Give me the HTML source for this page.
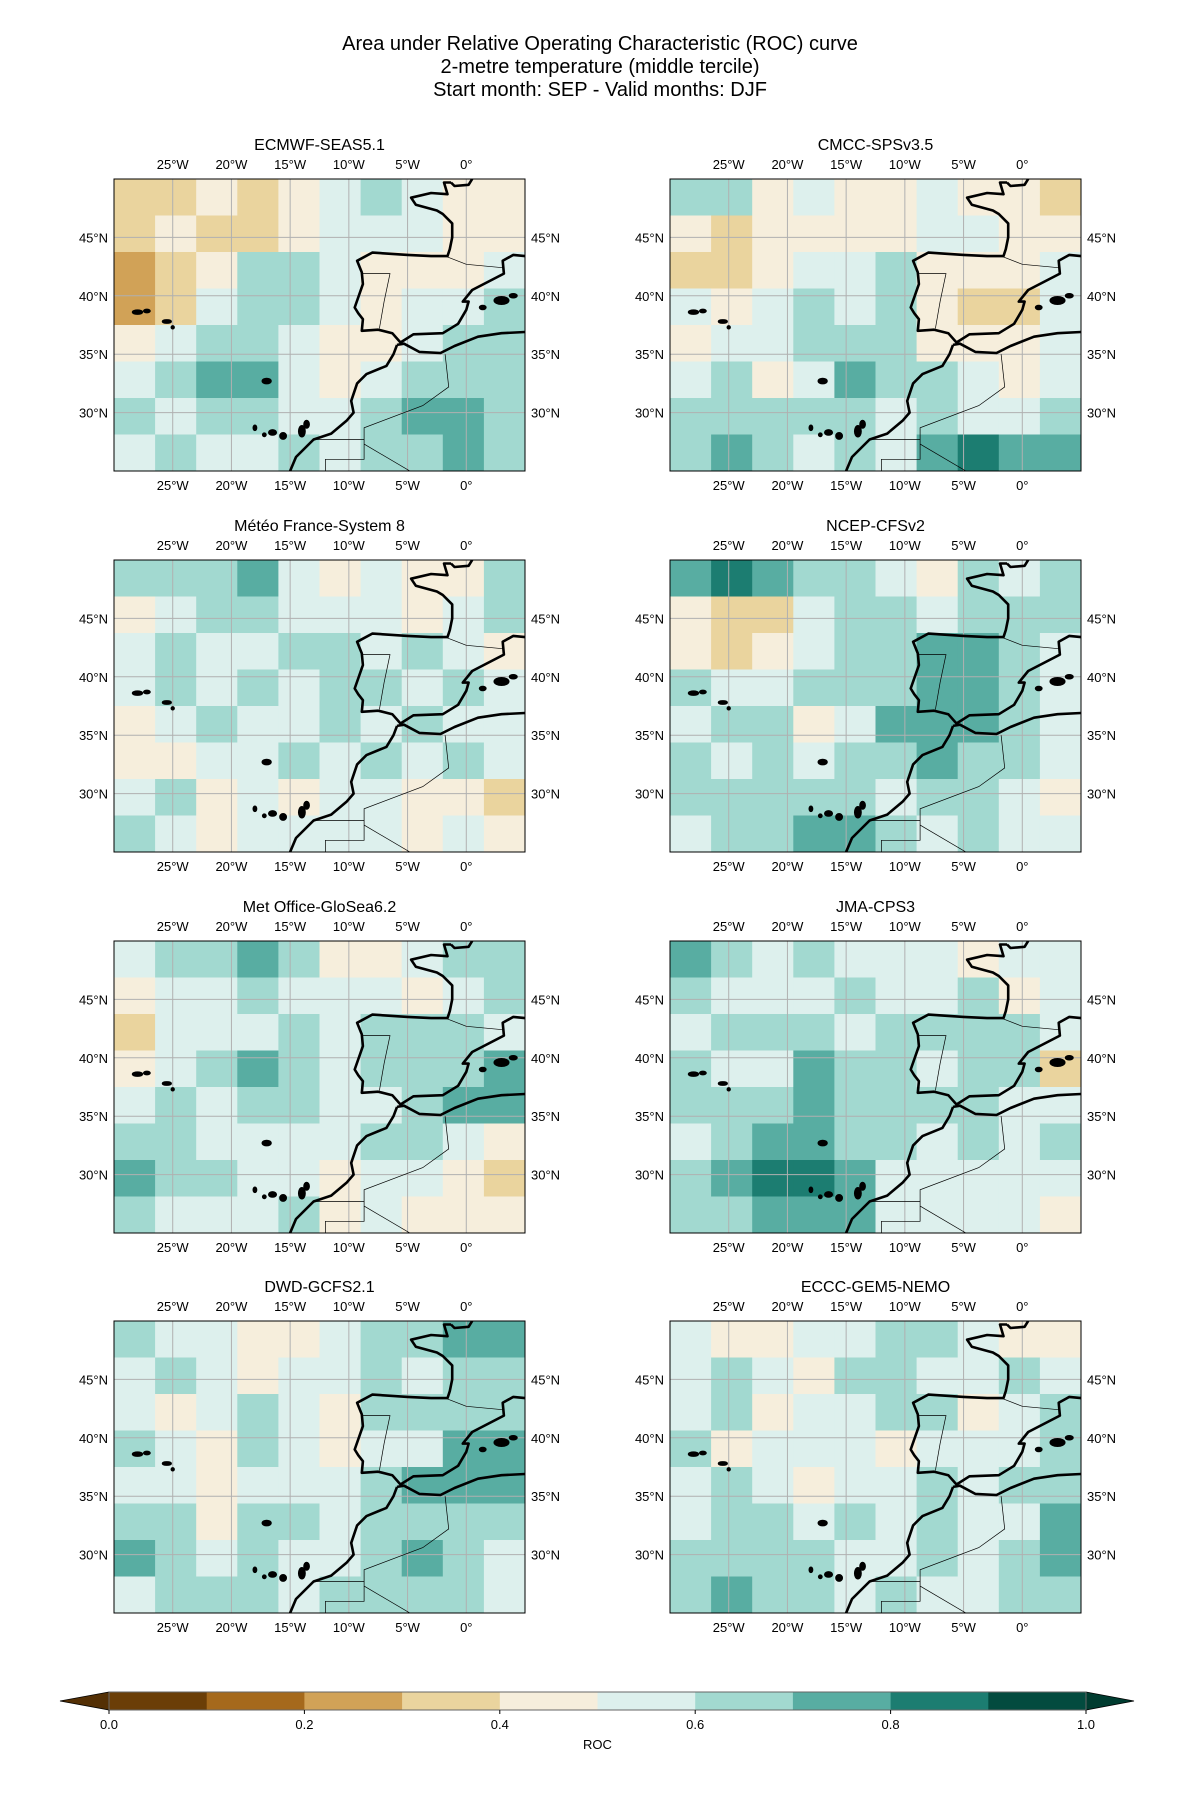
<!DOCTYPE html>
<html><head><meta charset="utf-8">
<style>
body{margin:0;background:#fff;font-family:"Liberation Sans",sans-serif;}
svg{display:block}
</style></head>
<body>
<svg id="fig" width="1200" height="1800" viewBox="0 0 1200 1800" xmlns="http://www.w3.org/2000/svg" font-family="Liberation Sans, sans-serif">
<g font-size="20" text-anchor="middle" fill="#000">
<text x="600" y="50">Area under Relative Operating Characteristic (ROC) curve</text>
<text x="600" y="73">2-metre temperature (middle tercile)</text>
<text x="600" y="96">Start month: SEP - Valid months: DJF</text>
</g>
<g id="panels"></g>
<g id="cbar"></g>
</svg>
<script>
const modelNames = ["ECMWF-SEAS5.1","CMCC-SPSv3.5","Météo France-System 8","NCEP-CFSv2","Met Office-GloSea6.2","JMA-CPS3","DWD-GCFS2.1","ECCC-GEM5-NEMO"];
const lonTicks = [-25,-20,-15,-10,-5,0];
const lonTickLabels = ["25°W","20°W","15°W","10°W","5°W","0°"];
const latTicks = [45,40,35,30];
const latTickLabels = ["45°N","40°N","35°N","30°N"];
const cbarTicks = [0,0.2,0.4,0.6,0.8,1.0];
const cbarTickLabels = ["0.0","0.2","0.4","0.6","0.8","1.0"];
const levels = [0,0.1,0.2,0.3,0.4,0.5,0.6,0.7,0.8,0.9,1.0];
const palette = ["#6b3e07","#a5691c","#d1a257","#ead49e","#f6eedc","#ddf0ed","#a2d9d0","#58ada2","#1c7d71","#034b3f"];
const roc_ecmwf = [
[.35,.35,.45,.35,.45,.55,.65,.55,.45,.45],
[.35,.45,.35,.35,.45,.55,.55,.55,.45,.45],
[.25,.35,.45,.65,.65,.55,.45,.45,.45,.55],
[.25,.35,.55,.65,.65,.55,.45,.55,.55,.65],
[.45,.55,.65,.65,.55,.45,.45,.55,.65,.65],
[.55,.65,.75,.75,.55,.45,.55,.65,.65,.65],
[.65,.55,.65,.65,.55,.55,.65,.75,.75,.65],
[.55,.65,.55,.55,.65,.55,.65,.65,.75,.65]];
const roc_cmcc = [
[.65,.65,.45,.55,.45,.45,.55,.45,.45,.35],
[.45,.35,.45,.45,.45,.45,.55,.55,.45,.45],
[.35,.35,.45,.55,.55,.65,.45,.45,.45,.55],
[.55,.45,.55,.65,.55,.65,.45,.35,.35,.55],
[.45,.55,.55,.65,.65,.65,.45,.45,.45,.55],
[.55,.65,.45,.55,.75,.65,.65,.55,.45,.55],
[.65,.65,.65,.65,.65,.55,.65,.55,.55,.65],
[.65,.75,.65,.55,.65,.55,.75,.85,.75,.75]];
const roc_mf = [
[.65,.65,.65,.75,.55,.45,.55,.45,.45,.65],
[.45,.55,.65,.65,.55,.55,.55,.45,.55,.65],
[.55,.65,.55,.55,.65,.65,.55,.65,.55,.45],
[.55,.65,.55,.65,.55,.65,.65,.55,.65,.55],
[.45,.55,.65,.55,.55,.65,.55,.65,.55,.55],
[.45,.45,.55,.55,.65,.55,.65,.55,.65,.55],
[.55,.65,.45,.55,.45,.55,.55,.45,.45,.35],
[.65,.55,.45,.55,.55,.55,.55,.45,.55,.45]];
const roc_ncep = [
[.75,.85,.75,.65,.65,.55,.45,.65,.55,.65],
[.45,.35,.35,.55,.65,.65,.55,.65,.65,.65],
[.45,.35,.45,.55,.65,.65,.75,.75,.65,.55],
[.65,.55,.55,.65,.65,.65,.75,.75,.65,.55],
[.55,.65,.65,.45,.55,.75,.75,.75,.65,.55],
[.65,.55,.65,.55,.65,.65,.75,.65,.65,.55],
[.65,.65,.65,.65,.65,.55,.65,.65,.55,.45],
[.55,.65,.65,.75,.75,.65,.55,.65,.55,.55]];
const roc_ukmo = [
[.55,.65,.65,.75,.65,.45,.45,.55,.65,.65],
[.45,.55,.55,.65,.55,.55,.55,.45,.55,.65],
[.35,.55,.55,.55,.65,.55,.65,.65,.65,.55],
[.45,.55,.65,.75,.65,.55,.65,.65,.65,.75],
[.55,.65,.55,.65,.65,.55,.55,.65,.75,.75],
[.65,.65,.55,.55,.55,.55,.65,.65,.55,.45],
[.75,.65,.65,.55,.55,.45,.55,.55,.45,.35],
[.65,.55,.55,.55,.65,.45,.55,.45,.45,.45]];
const roc_jma = [
[.75,.65,.55,.65,.55,.55,.55,.45,.55,.55],
[.65,.55,.55,.55,.65,.55,.55,.65,.45,.55],
[.55,.65,.65,.65,.55,.65,.65,.65,.65,.55],
[.65,.55,.55,.75,.65,.65,.55,.65,.65,.35],
[.65,.65,.65,.75,.65,.65,.65,.65,.55,.55],
[.55,.65,.75,.75,.65,.65,.55,.65,.55,.65],
[.65,.75,.85,.85,.75,.55,.55,.55,.55,.55],
[.65,.65,.75,.75,.75,.55,.55,.55,.55,.45]];
const roc_dwd = [
[.65,.55,.55,.45,.45,.55,.65,.65,.75,.75],
[.55,.65,.55,.45,.55,.55,.65,.55,.65,.65],
[.55,.45,.55,.65,.55,.45,.65,.65,.65,.65],
[.65,.55,.45,.65,.55,.45,.55,.55,.75,.75],
[.55,.55,.45,.55,.55,.55,.65,.75,.75,.75],
[.65,.65,.45,.65,.65,.55,.65,.65,.65,.65],
[.75,.65,.55,.65,.55,.55,.65,.75,.65,.55],
[.55,.65,.65,.65,.55,.65,.65,.65,.65,.55]];
const roc_eccc = [
[.55,.45,.45,.55,.55,.65,.65,.55,.45,.45],
[.55,.65,.55,.45,.65,.65,.55,.55,.65,.55],
[.55,.65,.45,.55,.55,.65,.65,.45,.55,.65],
[.65,.45,.55,.55,.55,.45,.55,.55,.55,.65],
[.55,.65,.55,.45,.55,.55,.65,.55,.65,.65],
[.55,.65,.65,.55,.65,.55,.65,.55,.55,.75],
[.65,.65,.65,.65,.55,.55,.65,.55,.65,.75],
[.65,.75,.65,.65,.55,.65,.55,.55,.65,.65]];
const grids = [roc_ecmwf,roc_cmcc,roc_mf,roc_ncep,roc_ukmo,roc_jma,roc_dwd,roc_eccc];

const coastEurope = [[-1.3,49.7],[-1.9,49.7],[-1.6,48.7],[-3,48.8],[-4.7,48.4],[-4.3,47.8],[-2.5,47.3],[-2,47],[-1.2,46.2],[-1.2,45],[-1.4,44],[-1.6,43.4],[-3,43.4],[-5,43.5],[-8,43.7],[-9.3,43],[-8.9,42],[-8.8,41],[-9.5,39],[-9.2,38.5],[-8.8,38],[-8.9,37],[-7.5,37.1],[-6.3,36.8],[-5.6,36],[-4.5,36.7],[-2,36.8],[-0.7,37.6],[0,38.8],[0.2,39.5],[-0.3,39.5],[0.5,40.5],[3.2,41.9],[3.1,43],[4,43.5],[5,43.4]];
const coastEurope2 = [[-1.3,49.7],[-1,49.4],[0.2,49.5],[0.5,50]];
const coastAfricaW = [[-5.9,35.8],[-6.2,35],[-6.8,34],[-8.5,33.3],[-9.3,32.5],[-9.8,31],[-9.6,30],[-10.2,29.3],[-11.5,28.2],[-13,27.7],[-14.5,26.2],[-15,25]];
const coastAfricaN = [[-5.9,35.8],[-5.3,35.9],[-4,35.2],[-2.2,35.1],[-1,35.7],[1,36.5],[3,36.8],[5,36.9]];
const borders = [
[[-1.8,43.4],[0,42.7],[3.2,42.4]],
[[-8.9,41.9],[-6.5,41.9],[-7,39.5],[-7.4,37.2]],
[[-1.8,35],[-1.5,32.2],[-3.7,30.6],[-8.7,28.7],[-8.7,27.7],[-13,27.7]],
[[-8.7,27.7],[-8.7,26],[-12,26],[-12,25]],
[[-8.7,27.3],[-4.8,25]]];
const islands = [[3,39.6,0.6,0.3],[4,40,0.3,0.15],[1.4,39,0.25,0.15],[-17,32.7,0.35,0.2],
[-28,38.6,0.4,0.15],[-27.2,38.7,0.25,0.12],[-25.5,37.8,0.35,0.12],[-25,37.3,0.1,0.1],
[-18,28.7,0.12,0.2],[-17.2,28.1,0.12,0.12],[-16.5,28.3,0.3,0.2],[-15.6,28,0.25,0.25],[-14,28.4,0.25,0.45],[-13.6,29,0.2,0.3]];

const panelLeft=[114,670], panelTop=[179,560,941,1321], PW=411, PH=292;
const NS="http://www.w3.org/2000/svg";
function mk(tag,attrs,parent){const e=document.createElementNS(NS,tag);for(const k in attrs)e.setAttribute(k,attrs[k]);if(parent)parent.appendChild(e);return e;}
function binColor(v){let i=Math.floor(v*10);if(i<0)i=0;if(i>9)i=9;return palette[i];}
const panels=document.getElementById('panels');
grids.forEach((g,p)=>{
  const x0=panelLeft[p%2], y0=panelTop[Math.floor(p/2)];
  const xs=lon=>x0+(lon+30)/35*PW, ys=lat=>y0+(50-lat)/25*PH;
  const grp=mk('g',{},panels);
  
  
  const t=mk('text',{x:x0+PW/2,y:y0-29,'text-anchor':'middle','font-size':16},grp);
  
  
  t.textContent=modelNames[p];
  const clipId='clip'+p;
  const cp=mk('clipPath',{id:clipId},grp);mk('rect',{x:x0,y:y0,width:PW,height:PH},cp);
  const inner=mk('g',{'clip-path':'url(#'+clipId+')'},grp);
  const rows=g.length, cols=g[0].length;
  const dlon=35/cols, dlat=25/rows;
  g.forEach((row,r)=>row.forEach((v,c)=>{
    const lon=-30+c*dlon, lat=50-r*dlat;
    const cell=mk('rect',{x:xs(lon),y:ys(lat),width:xs(lon+dlon)-xs(lon)+0.6,height:ys(lat-dlat)-ys(lat)+0.6,fill:binColor(v)},inner);
    
    
  }));
  lonTicks.forEach(l=>mk('line',{x1:xs(l),x2:xs(l),y1:y0,y2:y0+PH,stroke:'#b0b0b0','stroke-width':1},inner));
  latTicks.forEach(l=>mk('line',{x1:x0,x2:x0+PW,y1:ys(l),y2:ys(l),stroke:'#b0b0b0','stroke-width':1},inner));
  const pth=pts=>pts.map((q,i)=>(i?'L':'M')+xs(q[0]).toFixed(1)+' '+ys(q[1]).toFixed(1)).join(' ');
  [coastEurope,coastEurope2,coastAfricaW,coastAfricaN].forEach(c=>{
    const e=mk('path',{d:pth(c),fill:'none',stroke:'#000','stroke-width':2.6,'stroke-linejoin':'round'},inner);
    
    
  });
  borders.forEach(c=>{
    const e=mk('path',{d:pth(c),fill:'none',stroke:'#000','stroke-width':0.7},inner);
    
    
  });
  islands.forEach(s=>{
    const e=mk('ellipse',{cx:xs(s[0]),cy:ys(s[1]),rx:s[2]/35*PW,ry:s[3]/25*PH,fill:'#000',stroke:'#000','stroke-width':2},inner);
    
    
  });
  mk('rect',{x:x0,y:y0,width:PW,height:PH,fill:'none',stroke:'#000','stroke-width':1},grp);
  lonTicks.forEach((l,i)=>{
    [y0-10,y0+PH+19].forEach(yy=>{
      const tt=mk('text',{x:xs(l),y:yy,'text-anchor':'middle','font-size':13},grp);
      
      
      tt.textContent=lonTickLabels[i];
    });
  });
  latTicks.forEach((l,i)=>{
    const a=mk('text',{x:x0-6,y:ys(l)+5,'text-anchor':'end','font-size':13},grp);
    
    
    a.textContent=latTickLabels[i];
    const b=mk('text',{x:x0+PW+6,y:ys(l)+5,'text-anchor':'start','font-size':13},grp);
    
    
    b.textContent=latTickLabels[i];
  });
});
const cb=document.getElementById('cbar');
const cx0=109,cx1=1086,cy0=1692,cy1=1710;
const cxs=v=>cx0+v*(cx1-cx0);
mk('path',{d:`M${cx0} ${cy0} L60 ${(cy0+cy1)/2} L${cx0} ${cy1} Z`,fill:'#543005',stroke:'#000','stroke-width':0.8},cb);
mk('path',{d:`M${cx1} ${cy0} L1134 ${(cy0+cy1)/2} L${cx1} ${cy1} Z`,fill:'#003c30',stroke:'#000','stroke-width':0.8},cb);
for(let i=0;i<10;i++){
  const r=mk('rect',{x:cxs(levels[i]),y:cy0,width:cxs(levels[i+1])-cxs(levels[i])+0.5,height:cy1-cy0,fill:palette[i]},cb);
  
  
}
mk('rect',{x:cx0,y:cy0,width:cx1-cx0,height:cy1-cy0,fill:'none',stroke:'#666','stroke-width':1},cb);
cbarTicks.forEach((v,i)=>{
  mk('line',{x1:cxs(v),x2:cxs(v),y1:cy1,y2:cy1+4,stroke:'#000'},cb);
  const t=mk('text',{x:cxs(v),y:1729,'text-anchor':'middle','font-size':13},cb);
  
  
  t.textContent=cbarTickLabels[i];
});
const lab=mk('text',{x:(cx0+cx1)/2,y:1749,'text-anchor':'middle','font-size':13},cb);


lab.textContent='ROC';
</script>
</body></html>
